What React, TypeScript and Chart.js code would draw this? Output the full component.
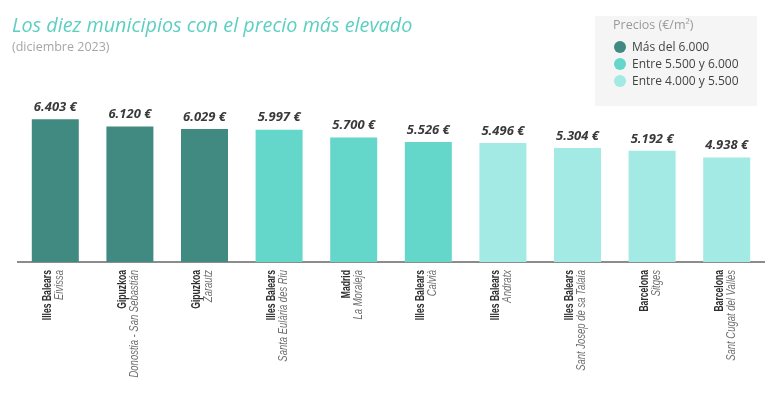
import React, { useEffect, useRef } from "react";
import { Chart, registerables } from "chart.js";

Chart.register(...registerables);

const provinces = [
  "Illes Balears",
  "Gipuzkoa",
  "Gipuzkoa",
  "Illes Balears",
  "Madrid",
  "Illes Balears",
  "Illes Balears",
  "Illes Balears",
  "Barcelona",
  "Barcelona",
];
const municipalities = [
  "Eivissa",
  "Donostia - San Sebastián",
  "Zarautz",
  "Santa Eulària des Riu",
  "La Moraleja",
  "Calvià",
  "Andratx",
  "Sant Josep de sa Talaia",
  "Sitges",
  "Sant Cugat del Vallès",
];
const prices = [6403, 6120, 6029, 5997, 5700, 5526, 5496, 5304, 5192, 4938];

const tierLabels = ["Más del 6.000", "Entre 5.500 y 6.000", "Entre 4.000 y 5.500"];
const tierMins = [6000, 5500, 4000];
const tierColors = ["#408A81", "#64D6CA", "#A3E9E4"];

const titleText = "Los diez municipios con el precio más elevado";
const subtitleText = "(diciembre 2023)";
const legendTitle = "Precios (€/m²)";

function tierColor(v: number): string {
  for (let i = 0; i < tierMins.length; i++) {
    if (v > tierMins[i]) return tierColors[i];
  }
  return tierColors[tierColors.length - 1];
}

function fmt(v: number): string {
  const s = String(Math.round(v));
  return s.replace(/\B(?=(\d{3})+(?!\d))/g, ".") + " €";
}

const decorPlugin = {
  id: "decor",
  beforeDraw(chart: any) {
    const ctx = chart.ctx;
    ctx.save();
    ctx.fillStyle = "#F5F5F5";
    ctx.fillRect(595, 16, 162, 90);
    ctx.restore();
  },
  afterDraw(chart: any) {
    const ctx = chart.ctx;
    ctx.save();
    // title
    ctx.textAlign = "left";
    ctx.textBaseline = "alphabetic";
    ctx.fillStyle = "#5CCFC3";
    ctx.font = "italic 500 19.8px 'Open Sans'";
    ctx.fillText(titleText, 12, 32);
    ctx.fillStyle = "#A6A6A6";
    ctx.font = "12.5px 'Open Sans'";
    ctx.fillText(subtitleText, 12, 51);

    // legend
    ctx.textBaseline = "middle";
    ctx.fillStyle = "#9A9A9A";
    ctx.font = "12.5px 'Open Sans'";
    ctx.fillText(legendTitle, 613, 25);
    tierLabels.forEach((lab, i) => {
      const y = 47 + i * 17;
      ctx.beginPath();
      ctx.fillStyle = tierColors[i];
      ctx.arc(620, y, 6, 0, Math.PI * 2);
      ctx.fill();
      ctx.fillStyle = "#444444";
      ctx.font = "12px 'Open Sans'";
      ctx.fillText(lab, 632, y + 0.5);
    });

    // value labels
    const meta = chart.getDatasetMeta(0);
    ctx.textAlign = "center";
    ctx.textBaseline = "middle";
    ctx.fillStyle = "#3A3A3A";
    ctx.font = "italic bold 13px 'Open Sans'";
    meta.data.forEach((bar: any, i: number) => {
      ctx.fillText(fmt(prices[i]), bar.x, bar.y - 12);
    });

    // category labels (rotated)
    const xs = chart.scales.x;
    const top = chart.chartArea.bottom + 8;
    provinces.forEach((p, i) => {
      const x = xs.getPixelForValue(i);
      ctx.save();
      ctx.translate(x - 7.5, top);
      ctx.rotate(-Math.PI / 2);
      ctx.scale(0.7, 1);
      ctx.textAlign = "right";
      ctx.textBaseline = "middle";
      ctx.fillStyle = "#2E2E2E";
      ctx.font = "bold 12.3px 'Liberation Sans'";
      ctx.fillText(p, 0, 0);
      ctx.restore();
      ctx.save();
      ctx.translate(x + 4.5, top);
      ctx.rotate(-Math.PI / 2);
      ctx.scale(0.79, 1);
      ctx.textAlign = "right";
      ctx.textBaseline = "middle";
      ctx.fillStyle = "#707070";
      ctx.font = "italic 12px 'Liberation Sans'";
      ctx.fillText(municipalities[i], 0, 0);
      ctx.restore();
    });
    ctx.restore();
  },
};

export default function App() {
  const ref = useRef<HTMLCanvasElement | null>(null);
  useEffect(() => {
    if (!ref.current) return;
    const chart = new Chart(ref.current, {
      type: "bar",
      data: {
        labels: municipalities,
        datasets: [
          {
            data: prices,
            backgroundColor: prices.map(tierColor),
            borderWidth: 0,
            barPercentage: 0.63,
            categoryPercentage: 1,
          },
        ],
      },
      options: {
        animation: false,
        responsive: false,
        maintainAspectRatio: false,
        layout: { padding: { left: 18, right: 4, top: 100, bottom: 129 } },
        plugins: {
          legend: { display: false },
          title: { display: false },
          tooltip: { enabled: false },
        },
        scales: {
          x: {
            grid: { display: false },
            ticks: { display: false },
            border: { display: true, color: "#8C8C8C", width: 2 },
          },
          y: {
            display: false,
            min: 950,
            max: 7133,
          },
        },
      },
      plugins: [decorPlugin],
    });
    return () => chart.destroy();
  }, []);
  return (
    <div style={{ position: "fixed", left: 0, top: 0, width: 768, height: 399, background: "#fff" }}>
      <canvas ref={ref} width={768} height={399} style={{ width: 768, height: 399 }} />
    </div>
  );
}
